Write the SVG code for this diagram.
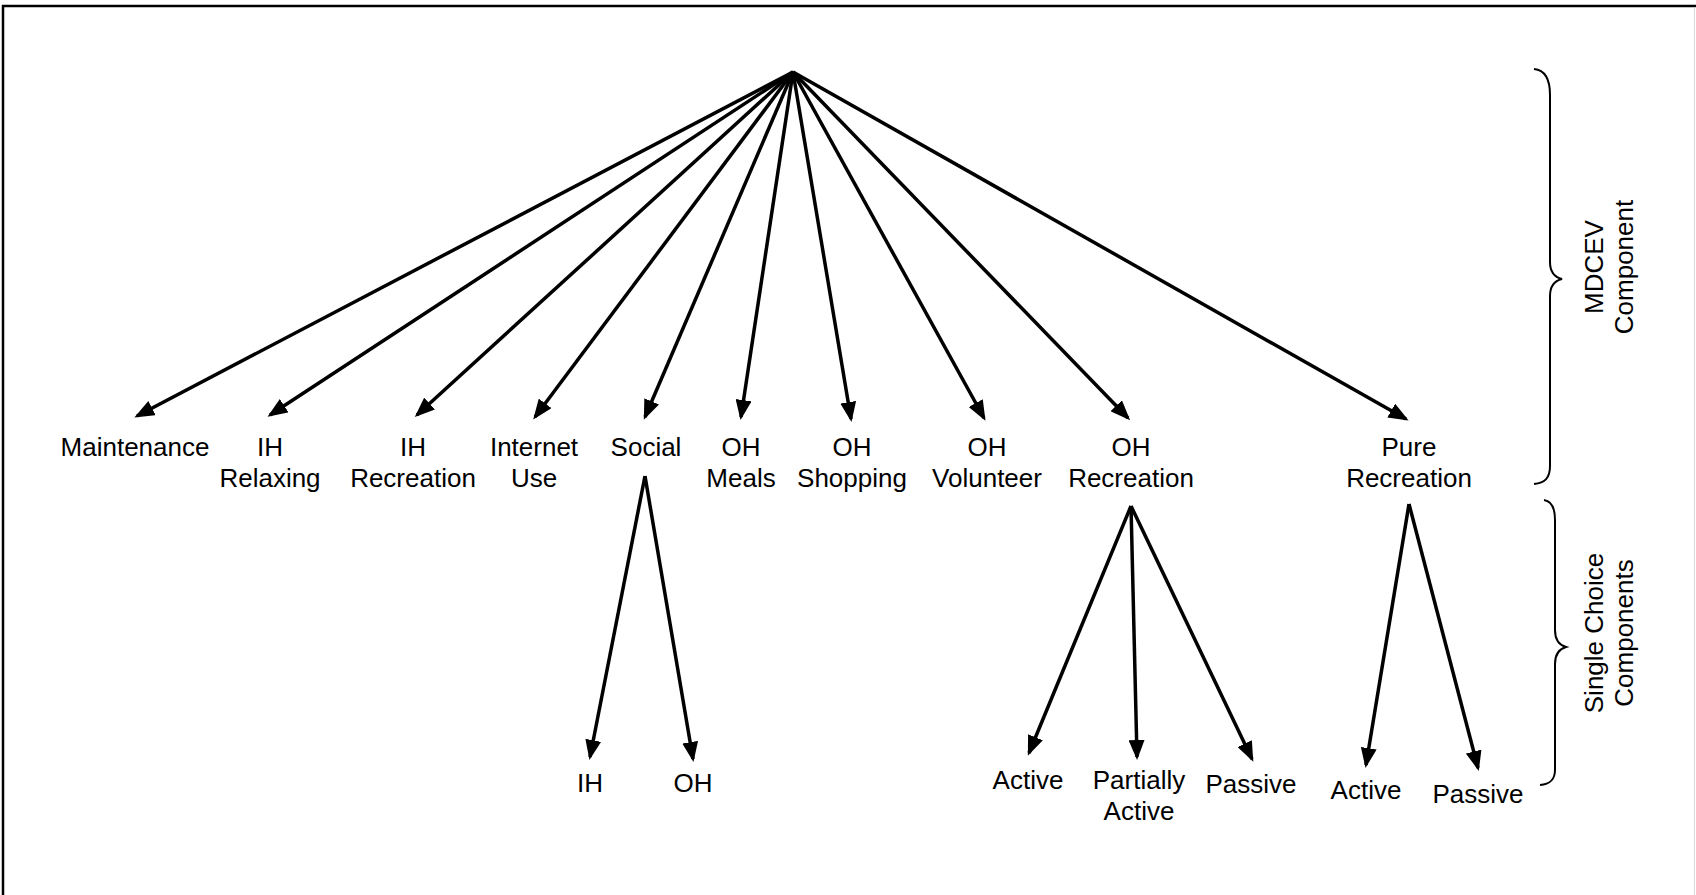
<svg xmlns="http://www.w3.org/2000/svg" width="1696" height="895" viewBox="0 0 1696 895">
<style>
.lbl{font-family:"Liberation Sans",Arial,sans-serif;font-size:26px;fill:#000;text-anchor:middle}
.edge{stroke:#000;stroke-width:3.5;fill:none;marker-end:url(#ah)}
.brace{stroke:#000;stroke-width:2;fill:none}
</style>
<defs>
<marker id="ah" markerUnits="userSpaceOnUse" markerWidth="20" markerHeight="16" viewBox="0 0 20 16" refX="17" refY="8" orient="auto">
<path d="M0,0 L20,8 L0,16 z" fill="#000"/>
</marker>
</defs>
<rect x="0" y="0" width="1696" height="895" fill="#fff"/>
<g id="frame">
<line x1="2" y1="6" x2="1696" y2="6" stroke="#000" stroke-width="2.5"/>
<line x1="3" y1="5" x2="3" y2="895" stroke="#000" stroke-width="2.5"/>
<line x1="1694.5" y1="7" x2="1694.5" y2="895" stroke="#d8d8d8" stroke-width="1"/>
</g>
<g id="connectors">
<line class="edge" x1="793" y1="72" x2="137" y2="416"/>
<line class="edge" x1="793" y1="72" x2="270" y2="415"/>
<line class="edge" x1="793" y1="72" x2="417" y2="415"/>
<line class="edge" x1="793" y1="72" x2="535" y2="417"/>
<line class="edge" x1="793" y1="72" x2="645" y2="417"/>
<line class="edge" x1="793" y1="72" x2="741" y2="417"/>
<line class="edge" x1="793" y1="72" x2="851" y2="419"/>
<line class="edge" x1="793" y1="72" x2="984" y2="418"/>
<line class="edge" x1="793" y1="72" x2="1128" y2="418"/>
<line class="edge" x1="793" y1="72" x2="1406" y2="419"/>
<line class="edge" x1="645" y1="476" x2="590" y2="757"/>
<line class="edge" x1="645" y1="476" x2="693" y2="759"/>
<line class="edge" x1="1131" y1="506" x2="1029" y2="753"/>
<line class="edge" x1="1131" y1="506" x2="1137" y2="757"/>
<line class="edge" x1="1131" y1="506" x2="1252" y2="759"/>
<line class="edge" x1="1409" y1="504" x2="1366" y2="765"/>
<line class="edge" x1="1409" y1="504" x2="1478" y2="768"/>
</g>
<g id="n-maintenance"><text class="lbl" x="135" y="456">Maintenance</text></g>
<g id="n-ih-relaxing"><text class="lbl" x="270" y="456">IH</text><text class="lbl" x="270" y="487">Relaxing</text></g>
<g id="n-ih-recreation"><text class="lbl" x="413" y="456">IH</text><text class="lbl" x="413" y="487">Recreation</text></g>
<g id="n-internet-use"><text class="lbl" x="534" y="456">Internet</text><text class="lbl" x="534" y="487">Use</text></g>
<g id="n-social"><text class="lbl" x="646" y="456">Social</text></g>
<g id="n-oh-meals"><text class="lbl" x="741" y="456">OH</text><text class="lbl" x="741" y="487">Meals</text></g>
<g id="n-oh-shopping"><text class="lbl" x="852" y="456">OH</text><text class="lbl" x="852" y="487">Shopping</text></g>
<g id="n-oh-volunteer"><text class="lbl" x="987" y="456">OH</text><text class="lbl" x="987" y="487">Volunteer</text></g>
<g id="n-oh-recreation"><text class="lbl" x="1131" y="456">OH</text><text class="lbl" x="1131" y="487">Recreation</text></g>
<g id="n-pure-recreation"><text class="lbl" x="1409" y="456">Pure</text><text class="lbl" x="1409" y="487">Recreation</text></g>
<g id="n-social-ih"><text class="lbl" x="590" y="792">IH</text></g>
<g id="n-social-oh"><text class="lbl" x="693" y="792">OH</text></g>
<g id="n-ohrec-active"><text class="lbl" x="1028" y="789">Active</text></g>
<g id="n-ohrec-partially"><text class="lbl" x="1139" y="789">Partially</text><text class="lbl" x="1139" y="820">Active</text></g>
<g id="n-ohrec-passive"><text class="lbl" x="1251" y="793">Passive</text></g>
<g id="n-pure-active"><text class="lbl" x="1366" y="799">Active</text></g>
<g id="n-pure-passive"><text class="lbl" x="1478" y="803">Passive</text></g>
<g id="brace-mdcev">
<path class="brace" d="M1534,69 C1545,70 1550,80 1550,95 L1550,262 C1550,272 1554,277 1562,279 C1554,281 1550,286 1550,296 L1550,466 C1550,478 1545,483 1534,484"/>
<text class="lbl" transform="translate(1603,267) rotate(-90)" x="0" y="0">MDCEV</text>
<text class="lbl" transform="translate(1633,267) rotate(-90)" x="0" y="0">Component</text>
</g>
<g id="brace-single">
<path class="brace" d="M1544,500 C1551,501 1555,508 1555,520 L1555,630 C1555,640 1559,645 1566,647 C1559,649 1555,654 1555,664 L1555,770 C1555,780 1550,784 1540,785"/>
<text class="lbl" transform="translate(1603,633) rotate(-90)" x="0" y="0">Single Choice</text>
<text class="lbl" transform="translate(1633,633) rotate(-90)" x="0" y="0">Components</text>
</g>
</svg>
